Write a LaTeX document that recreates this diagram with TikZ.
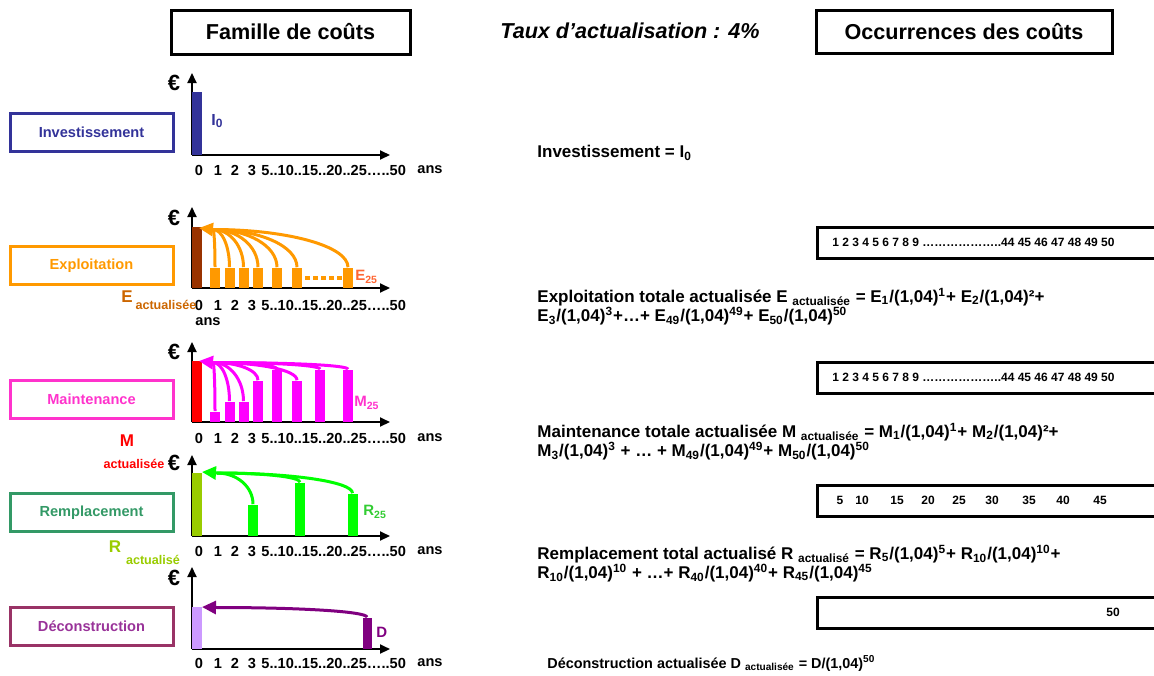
\documentclass[tikz,border=0pt]{standalone}
\usepackage{fontspec}
\setmainfont{Liberation Sans}
\usetikzlibrary{arrows.meta}
\definecolor{inv}{HTML}{333399}
\definecolor{expl}{HTML}{FF9900}
\definecolor{explz}{HTML}{993300}
\definecolor{expla}{HTML}{CC6600}
\definecolor{explb}{HTML}{FF6633}
\definecolor{mnt}{HTML}{FF33CC}
\definecolor{mntbar}{HTML}{FF00FF}
\definecolor{rmp}{HTML}{339966}
\definecolor{rmpbar}{HTML}{00FF00}
\definecolor{rmpl}{HTML}{33CC33}
\definecolor{rmpz}{HTML}{99CC00}
\definecolor{dec}{HTML}{993366}
\definecolor{dectxt}{HTML}{993399}
\definecolor{decbar}{HTML}{800080}
\definecolor{decz}{HTML}{CC99FF}
\newcommand{\bas}[1]{\textsubscript{#1}}
\newcommand{\haut}[1]{\textsuperscript{#1}}
\tikzstyle{titre} = [draw, line width=1.5pt, inner sep=0pt, font=\fontsize{10.8}{13}\selectfont\bfseries]
\tikzstyle{fam} = [draw, line width=1.5pt, minimum width=81.5pt, minimum height=19pt, inner sep=0pt, font=\fontsize{7.3}{9}\selectfont\bfseries]
\tikzstyle{occbox} = [draw, line width=1.5pt, minimum width=179pt, minimum height=15.5pt, inner sep=0pt]
\tikzstyle{grad} = [inner sep=0pt, font=\fontsize{7.3}{9}\selectfont\bfseries]
\tikzstyle{lab} = [inner sep=0pt, anchor=west, font=\fontsize{7.5}{9}\selectfont\bfseries]
\tikzstyle{grand} = [inner sep=0pt, font=\fontsize{8.5}{10}\selectfont\bfseries]
\tikzstyle{euro} = [inner sep=0pt, font=\fontsize{11}{12}\selectfont\bfseries]
\tikzstyle{indice} = [inner sep=0pt, font=\fontsize{6.3}{8}\selectfont\bfseries]
\tikzstyle{petit} = [inner sep=0pt, font=\fontsize{6}{7}\selectfont\bfseries]
\tikzstyle{formule} = [inner sep=0pt, anchor=west, font=\fontsize{8.5}{10}\selectfont\bfseries]
\tikzstyle{barre} = [inner sep=0pt, anchor=south, minimum width=5pt]
\tikzstyle{axe} = [line width=1pt, -{Triangle[length=5pt,width=4.5pt]}]
\tikzstyle{flux} = [line width=1.5pt]
\tikzstyle{tete} = [line width=1.5pt, -{Triangle[length=7pt,width=6.5pt]}]

\begin{document}
\begin{tikzpicture}[x=0.5pt, y=-0.5pt]
  \useasboundingbox (0,0) rectangle (1154,675);
  \node[titre, minimum width=119.5pt, minimum height=22pt] (fam) at (290.5,32) {Famille de coûts};
  \node[grand, font=\fontsize{10.8}{13}\selectfont\bfseries\itshape] (taux) at (630,31) {Taux d’actualisation : 4\%};
  \node[titre, minimum width=148pt, minimum height=21.5pt] (occ) at (964,31.5) {Occurrences des coûts};

  \node[fam, draw=inv, text=inv] (inv) at (91.5,132.5) {Investissement};
  \node[fam, draw=expl, text=expl] (exp) at (91.5,265.5) {Exploitation};
  \node[fam, draw=mnt, text=mnt] (mai) at (91.5,399) {Maintenance};
  \node[fam, draw=rmp, text=rmp] (rem) at (91.5,512.5) {Remplacement};
  \node[fam, draw=dec, text=dectxt] (dec) at (91.5,626) {Déconstruction};

  \foreach \b/\t in {155/73,288/207,422/342,536/455,649/567}{
    \draw[axe] (192,\b) -- (192,\t);
    \draw[axe] (192,\b) -- (390,\b);
  }
  \foreach \y in {83,218,352,463,578}
    \node[euro] (eu\y) at (174,\y) {€};
  \foreach \y in {170,305,438,551,663}{
    \node[grad] (ga\y) at (199,\y) {0};
    \node[grad] (gb\y) at (218,\y) {1};
    \node[grad] (gc\y) at (235,\y) {2};
    \node[grad] (gd\y) at (252,\y) {3};
    \node[grad, anchor=west] (ge\y) at (261,\y) {5..10..15..20..25…..50};
  }
  \foreach \y in {170,438,551,663}
    \node[grad] (ans\y) at (430,\y) {ans};
  \node[grad] (ans305) at (208,322) {ans};

  \node[barre, fill=inv, minimum height=31.5pt] (i0) at (196.5,155) {};
  \node[lab, text=inv, font=\fontsize{8}{9}\selectfont\bfseries] (il) at (211,121) {I\bas{0}};

  \node[barre, fill=explz, minimum height=30.5pt] (e0) at (196.5,288) {};
  \coordinate (ej) at (213,229.5);
  \coordinate (et) at (199,228);
  \foreach \x [count=\i, evaluate=\x as \d using 0.275*(\x-213)] in {215,229.5,243.5,258,277,297,348}{
    \node[barre, fill=expl, minimum height=10pt] (e\i) at (\x,288) {};
    \draw[flux, expl] (e\i.north) to[out=90, in=0, out distance=10.6pt, in distance={\d pt}] (ej);
  }
  \draw[expl, line width=2pt, dash pattern=on 2.5pt off 1.5pt, shorten <=1.5pt] (e6.east) -- (e7.west);
  \draw[tete, expl] (ej) -- (et);
  \node[lab, text=explb] (el) at (355,277) {E\bas{25}};
  \node[grand, text=expla] (ea) at (127,297) {E};
  \node[indice, text=expla] (eb) at (166,305) {actualisée};

  \node[barre, fill=red, minimum height=30.5pt] (m0) at (196.5,422) {};
  \coordinate (mj) at (213,362.5);
  \coordinate (mt) at (199,361);
  \foreach \x/\h [count=\i, evaluate=\x as \d using 0.275*(\x-213), evaluate=\h as \u using 0.275*(59.5-2*\h)] in {215/5,229.5/10,243.5/10,258/20.5,277/26,297/20.5,320/26,348/26}{
    \node[barre, fill=mntbar, minimum height=\h pt] (m\i) at (\x,422) {};
    \draw[flux, mntbar] (m\i.north) to[out=90, in=0, out distance={\u pt}, in distance={\d pt}] (mj);
  }
  \draw[tete, mntbar] (mj) -- (mt);
  \node[lab, text=mnt] (ml) at (354,403) {M\bas{25}};
  \node[grand, text=red] (ma) at (127,441) {M};
  \node[indice, text=red] (mb) at (134,464) {actualisée};

  \node[barre, fill=rmpz, minimum height=31.5pt] (r0) at (196.5,536) {};
  \coordinate (rj) at (217,473);
  \coordinate (rt) at (202,472);
  \foreach \x/\h [count=\i, evaluate=\x as \d using 0.275*(\x-217), evaluate=\h as \u using 0.275*(63-2*\h)] in {253/15.5,300/26.5,352.5/21}{
    \node[barre, fill=rmpbar, minimum height=\h pt] (r\i) at (\x,536) {};
    \draw[flux, rmpbar] (r\i.north) to[out=90, in=0, out distance={\u pt}, in distance={\d pt}] (rj);
  }
  \draw[tete, rmpbar] (rj) -- (rt);
  \node[lab, text=rmpl] (rl) at (363,512) {R\bas{25}};
  \node[grand, text=rmpz] (ra) at (115,547) {R};
  \node[indice, text=rmpz] (rb) at (153,560) {actualisé};

  \node[barre, fill=decz, minimum height=21pt] (d0) at (196.5,649) {};
  \node[barre, fill=decbar, minimum height=15.5pt, minimum width=4.5pt] (d1) at (367,649) {};
  \coordinate (dj) at (217,607.5);
  \coordinate (dt) at (202,607);
  \draw[flux, decbar] (d1.north) to[out=90, in=0, out distance=2.9pt, in distance=41pt] (dj);
  \draw[tete, decbar] (dj) -- (dt);
  \node[lab, text=decbar] (dl) at (376,632) {D};

  \node[formule] (fi) at (537,153) {Investissement = I\bas{0}};
  \node[occbox] (o1) at (996,242.5) {};
  \node[petit, anchor=west] (t1) at (832,242.5) {1 2 3 4 5 6 7 8 9 ………………..44 45 46 47 48 49 50};
  \node[formule] (fe1) at (537,297) {Exploitation totale actualisée E \bas{actualisée} = E\bas{1}/(1,04)\haut{1}+ E\bas{2}/(1,04)²+};
  \node[formule] (fe2) at (537,316) {E\bas{3}/(1,04)\haut{3}+…+ E\bas{49}/(1,04)\haut{49}+ E\bas{50}/(1,04)\haut{50}};
  \node[occbox] (o2) at (996,377.5) {};
  \node[petit, anchor=west] (t2) at (832,377.5) {1 2 3 4 5 6 7 8 9 ………………..44 45 46 47 48 49 50};
  \node[formule] (fm1) at (537,432) {Maintenance totale actualisée M \bas{actualisée} = M\bas{1}/(1,04)\haut{1}+ M\bas{2}/(1,04)²+};
  \node[formule] (fm2) at (537,451) {M\bas{3}/(1,04)\haut{3} + … + M\bas{49}/(1,04)\haut{49}+ M\bas{50}/(1,04)\haut{50}};
  \node[occbox] (o3) at (996,500.5) {};
  \foreach \n/\x in {5/840,10/862,15/897,20/928,25/959,30/992,35/1029,40/1063,45/1100}
    \node[petit] (t3\n) at (\x,500.5) {\n};
  \node[formule] (fr1) at (537,554) {Remplacement total actualisé R \bas{actualisé} = R\bas{5}/(1,04)\haut{5}+ R\bas{10}/(1,04)\haut{10}+};
  \node[formule] (fr2) at (537,573) {R\bas{10}/(1,04)\haut{10} + …+ R\bas{40}/(1,04)\haut{40}+ R\bas{45}/(1,04)\haut{45}};
  \node[occbox] (o4) at (996,612.5) {};
  \node[petit] (t4) at (1113,612.5) {50};
  \node[formule, font=\fontsize{7.2}{9}\selectfont\bfseries] (fd) at (547,663) {Déconstruction actualisée D \bas{actualisée} = D/(1,04)\haut{50}};
\end{tikzpicture}
\end{document}
